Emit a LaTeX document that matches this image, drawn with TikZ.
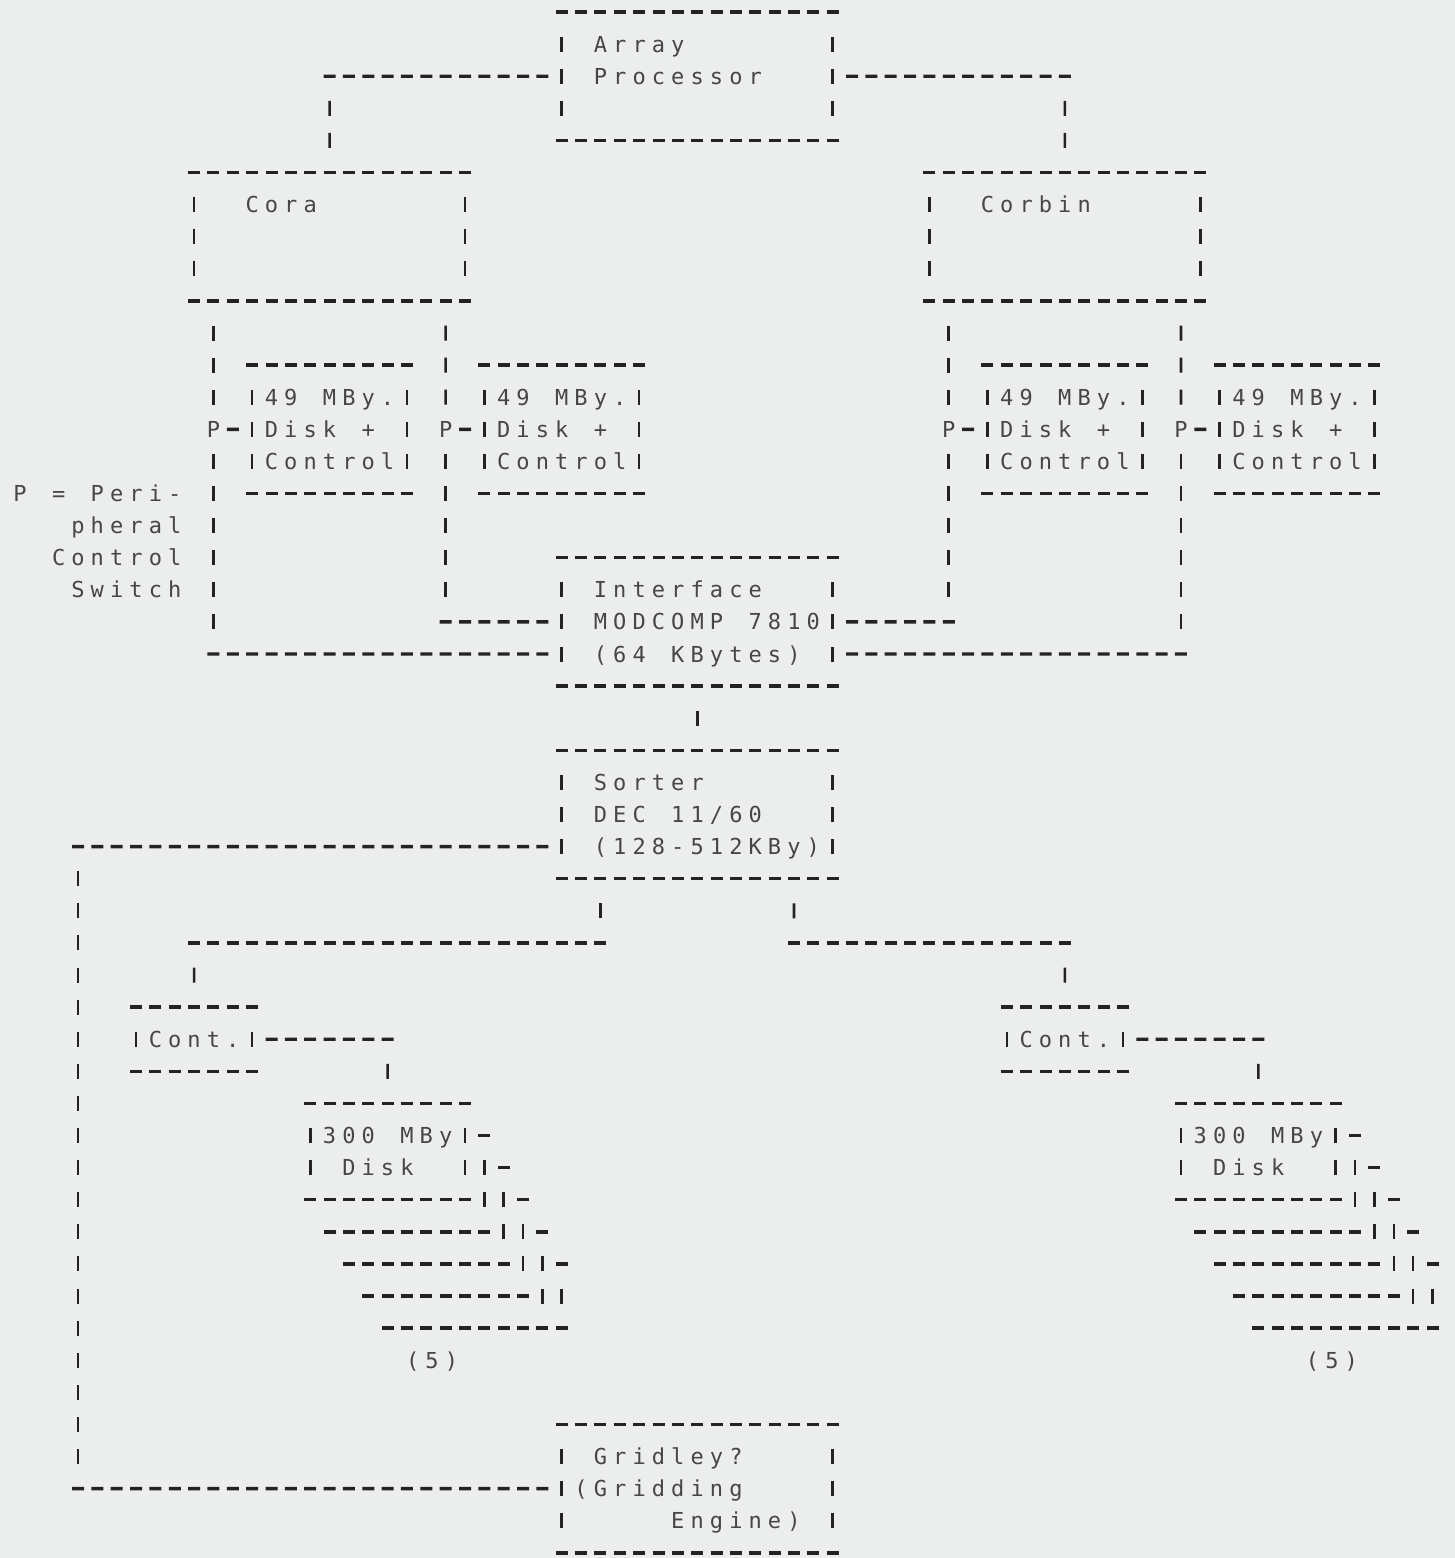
\documentclass[tikz,border=0pt]{standalone}
\usepackage{fontspec}
\newfontfamily\typefont{DejaVu Sans Mono}
\usetikzlibrary{calc}
\definecolor{paper}{RGB}{236,238,237}
\definecolor{ink}{RGB}{35,35,35}
\definecolor{txt}{RGB}{70,70,70}
% one character per fixed typewriter cell (use ~ for a space)
\newcommand\amono[1]{\amonoloop#1\relax}
\newcommand\amonoloop[1]{\ifx\relax#1\else\makebox[9.675pt]{#1}\expandafter\amonoloop\fi}
\newcommand\tline[1]{\rule[-4.025pt]{0pt}{16.05pt}\amono{#1}}
\tikzset{
  hdl/.style={draw=ink, line width=1.7pt, dash pattern=on 6pt off 3.675pt},
  vdl/.style={draw=ink, line width=1.3pt, dash pattern=on 7.5pt off 8.55pt},
  abox/.style={anchor=north west, inner xsep=4.8375pt, inner ysep=8.025pt, outer sep=0pt,
    align=left, text=txt, font=\typefont\fontsize{11pt}{16.05pt}\selectfont},
  boxwide/.style={abox, text width=125.775pt},
  boxmid/.style={abox, text width=67.725pt},
  boxnarrow/.style={abox, text width=48.375pt},
  dsk/.style={anchor=north west, inner sep=0pt, outer sep=0pt, minimum width=77.4pt, minimum height=48.15pt},
  lbl/.style={inner sep=0pt, outer sep=0pt, text=txt, font=\typefont\fontsize{11pt}{16.05pt}\selectfont},
}
\newcommand\asciibox[1]{%
  \draw[hdl] ($(#1.north west)+(-0.31,0)$) -- ($(#1.north east)+(0.31,0)$);
  \draw[hdl] ($(#1.south west)+(-0.31,0)$) -- ($(#1.south east)+(0.31,0)$);
  \draw[vdl] ($(#1.north west)+(0,0.7664)$) -- ($(#1.south west)+(0,-0.7664)$);
  \draw[vdl] ($(#1.north east)+(0,0.7664)$) -- ($(#1.south east)+(0,-0.7664)$);}
\newcommand\backdisk[1]{%
  \draw[hdl] ($(#1.north east)+(-0.31,0)$) -- ($(#1.north east)+(0.31,0)$);
  \draw[vdl] ($(#1.north east)+(0,0.7664)$) -- ($(#1.south east)+(0,-0.7664)$);
  \draw[hdl] ($(#1.south west)+(-0.31,0)$) -- ($(#1.south east)+(0.31,0)$);}
\newcommand\stackend[1]{%
  \draw[hdl] ($(#1.north east)+(0.69,1)$) -- ($(#1.north east)+(1.31,1)$);
  \draw[vdl] ($(#1.north east)+(1,1.7664)$) -- ($(#1.north east)+(1,2.2336)$);
  \draw[hdl] ($(#1.south east)+(0.69,0)$) -- ($(#1.south east)+(1.31,0)$);}
\begin{document}
\begin{tikzpicture}[x=9.675pt, y=-16.05pt]
\path[use as bounding box, fill=paper] (-4.031,-0.3738) rectangle (71.163,48.162);

% ---------- boxes ----------
\node[boxwide] (ap) at (25,0) {\tline{~Array}\\\tline{~Processor}\\\tline{~}};
\node[boxwide] (cora) at (6,5) {\tline{~~Cora}\\\tline{~}\\\tline{~}};
\node[boxwide] (corbin) at (44,5) {\tline{~~Corbin}\\\tline{~}\\\tline{~}};
\node[boxmid] (dA) at (9,11) {\tline{49~MBy.}\\\tline{Disk~+}\\\tline{Control}};
\node[boxmid] (dB) at (21,11) {\tline{49~MBy.}\\\tline{Disk~+}\\\tline{Control}};
\node[boxmid] (dC) at (47,11) {\tline{49~MBy.}\\\tline{Disk~+}\\\tline{Control}};
\node[boxmid] (dD) at (59,11) {\tline{49~MBy.}\\\tline{Disk~+}\\\tline{Control}};
\node[boxwide] (intf) at (25,17) {\tline{~Interface}\\\tline{~MODCOMP~7810}\\\tline{~(64~KBytes)}};
\node[boxwide] (sorter) at (25,23) {\tline{~Sorter}\\\tline{~DEC~11/60}\\\tline{~(128-512KBy)}};
\node[boxnarrow] (contL) at (3,31) {\tline{Cont.}};
\node[boxnarrow] (contR) at (48,31) {\tline{Cont.}};
\node[boxmid] (diskL) at (12,34) {\tline{300~MBy}\\\tline{~Disk}};
\node[boxmid] (diskR) at (57,34) {\tline{300~MBy}\\\tline{~Disk}};
\node[boxwide] (grid) at (25,44) {\tline{~Gridley?}\\\tline{(Gridding}\\\tline{~~~~~Engine)}};

\foreach \b in {ap,cora,corbin,dA,dB,dC,dD,intf,sorter,contL,contR,diskL,diskR,grid}{\asciibox{\b}}

% stacked disks behind the front ones
\node[dsk] (dL1) at (13,35) {};
\node[dsk] (dL2) at (14,36) {};
\node[dsk] (dL3) at (15,37) {};
\node[dsk] (dL4) at (16,38) {};
\node[dsk] (dR1) at (58,35) {};
\node[dsk] (dR2) at (59,36) {};
\node[dsk] (dR3) at (60,37) {};
\node[dsk] (dR4) at (61,38) {};
\foreach \b in {dL1,dL2,dL3,dL4,dR1,dR2,dR3,dR4}{\backdisk{\b}}
\stackend{dL4}
\stackend{dR4}

% ---------- labels ----------
\node[lbl] (pA) at (7,13) {\tline{P}};
\node[lbl] (pB) at (19,13) {\tline{P}};
\node[lbl] (pC) at (45,13) {\tline{P}};
\node[lbl] (pD) at (57,13) {\tline{P}};
\node[lbl, anchor=east] (leg1) at (5.5,15) {\tline{P~=~Peri-}};
\node[lbl, anchor=east] (leg2) at (5.5,16) {\tline{pheral}};
\node[lbl, anchor=east] (leg3) at (5.5,17) {\tline{Control}};
\node[lbl, anchor=east] (leg4) at (5.5,18) {\tline{Switch}};
\node[lbl] (fiveL) at (18.3,42) {\tline{(5)}};
\node[lbl] (fiveR) at (64.8,42) {\tline{(5)}};

% ---------- bend points ----------
\coordinate (j1) at (13,2);
\coordinate (j2) at (51,2);
\coordinate (j3) at (7,20);
\coordinate (j4) at (19,19);
\coordinate (j5) at (45,19);
\coordinate (j6) at (57,20);
\coordinate (j7) at (0,26);
\coordinate (j8) at (0,46);
\coordinate (j9) at (6,29);
\coordinate (j10) at (27,29);
\coordinate (j11) at (37,29);
\coordinate (j12) at (51,29);
\coordinate (j13) at (16,32);
\coordinate (j14) at (61,32);

% Array Processor -> Cora / Corbin
\draw[hdl] ($(j1)+(-0.31,0)$) -- ($(ap.west)+(-0.69,0)$);
\draw[vdl] ($(j1)+(0,0.7664)$) -- ($(cora.north)+(0,-0.7664)$);
\draw[hdl] ($(ap.east)+(0.69,0)$) -- ($(j2)+(0.31,0)$);
\draw[vdl] ($(j2)+(0,0.7664)$) -- ($(corbin.north)+(0,-0.7664)$);

% Cora -> peripheral switches -> Interface
\draw[vdl] ($(cora.south west)+(1,0.7664)$) -- ($(pA)+(0,-0.7664)$);
\draw[vdl] ($(pA)+(0,0.7664)$) -- ($(j3)+(0,-0.7664)$);
\draw[hdl] ($(j3)+(-0.31,0)$) -- ($(intf.south west)+(-0.69,-1)$);
\draw[hdl] ($(pA)+(0.69,0)$) -- ($(dA.west)+(-0.69,0)$);
\draw[vdl] ($(cora.south east)+(-1,0.7664)$) -- ($(pB)+(0,-0.7664)$);
\draw[vdl] ($(pB)+(0,0.7664)$) -- ($(j4)+(0,-0.7664)$);
\draw[hdl] ($(j4)+(-0.31,0)$) -- ($(intf.west)+(-0.69,0)$);
\draw[hdl] ($(pB)+(0.69,0)$) -- ($(dB.west)+(-0.69,0)$);

% Corbin -> peripheral switches -> Interface
\draw[vdl] ($(corbin.south west)+(1,0.7664)$) -- ($(pC)+(0,-0.7664)$);
\draw[vdl] ($(pC)+(0,0.7664)$) -- ($(j5)+(0,-0.7664)$);
\draw[hdl] ($(intf.east)+(0.69,0)$) -- ($(j5)+(0.31,0)$);
\draw[hdl] ($(pC)+(0.69,0)$) -- ($(dC.west)+(-0.69,0)$);
\draw[vdl] ($(corbin.south east)+(-1,0.7664)$) -- ($(pD)+(0,-0.7664)$);
\draw[vdl] ($(pD)+(0,0.7664)$) -- ($(j6)+(0,-0.7664)$);
\draw[hdl] ($(intf.south east)+(0.69,-1)$) -- ($(j6)+(0.31,0)$);
\draw[hdl] ($(pD)+(0.69,0)$) -- ($(dD.west)+(-0.69,0)$);

% Interface -> Sorter
\draw[vdl] ($(intf.south)+(0,0.7664)$) -- ($(sorter.north)+(0,-0.7664)$);

% Sorter -> Gridley
\draw[hdl] ($(j7)+(-0.31,0)$) -- ($(sorter.south west)+(-0.69,-1)$);
\draw[vdl] ($(j7)+(0,0.7664)$) -- ($(j8)+(0,-0.7664)$);
\draw[hdl] ($(j8)+(-0.31,0)$) -- ($(grid.west)+(-0.69,0)$);

% Sorter -> controllers
\draw[vdl] ($(sorter.south west)+(2,0.7664)$) -- ($(j10)+(0,-0.7664)$);
\draw[hdl] ($(j9)+(-0.31,0)$) -- ($(j10)+(0.31,0)$);
\draw[vdl] ($(j9)+(0,0.7664)$) -- ($(contL.north)+(0,-0.7664)$);
\draw[vdl] ($(sorter.south east)+(-2,0.7664)$) -- ($(j11)+(0,-0.7664)$);
\draw[hdl] ($(j11)+(-0.31,0)$) -- ($(j12)+(0.31,0)$);
\draw[vdl] ($(j12)+(0,0.7664)$) -- ($(contR.north)+(0,-0.7664)$);

% controllers -> 300 MBy disks
\draw[hdl] ($(contL.east)+(0.69,0)$) -- ($(j13)+(0.31,0)$);
\draw[vdl] ($(j13)+(0,0.7664)$) -- ($(diskL.north)+(0,-0.7664)$);
\draw[hdl] ($(contR.east)+(0.69,0)$) -- ($(j14)+(0.31,0)$);
\draw[vdl] ($(j14)+(0,0.7664)$) -- ($(diskR.north)+(0,-0.7664)$);
\end{tikzpicture}
\end{document}
